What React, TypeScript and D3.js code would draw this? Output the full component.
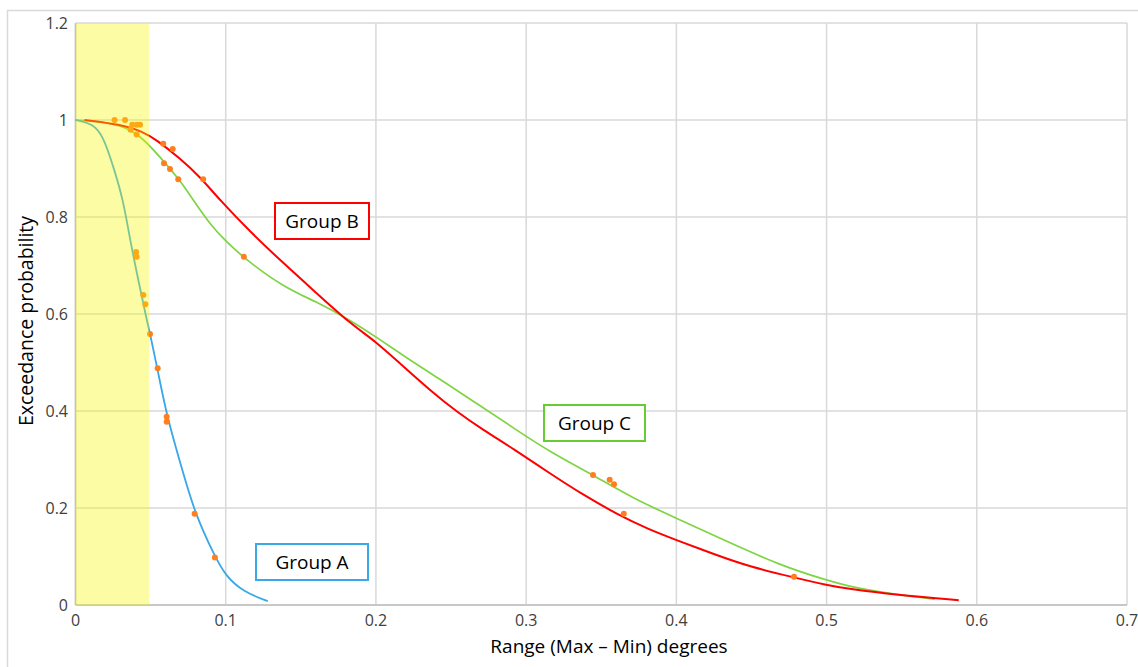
import React from "react";
import * as d3 from "d3";

const xTicks = [0, 0.1, 0.2, 0.3, 0.4, 0.5, 0.6, 0.7];
const yTicks = [0, 0.2, 0.4, 0.6, 0.8, 1, 1.2];

const groupACurve: [number, number][] = [
  [0, 1], [0.0118, 0.992], [0.0185, 0.966], [0.0252, 0.904], [0.0318, 0.835],
  [0.0363, 0.753], [0.0418, 0.67], [0.0474, 0.588], [0.0496, 0.56], [0.0547, 0.485],
  [0.0607, 0.39], [0.0717, 0.272], [0.0795, 0.189], [0.0928, 0.0996], [0.1, 0.06],
  [0.1117, 0.027], [0.128, 0.008],
];

const groupBCurve: [number, number][] = [
  [0.006, 1.0], [0.0296, 0.991], [0.045, 0.976], [0.054, 0.959], [0.0695, 0.921],
  [0.0828, 0.883], [0.0961, 0.835], [0.1161, 0.77], [0.1383, 0.705], [0.1605, 0.643],
  [0.1826, 0.581], [0.2, 0.543], [0.216, 0.498], [0.237, 0.44], [0.2536, 0.399],
  [0.2713, 0.361], [0.291, 0.323], [0.3157, 0.2715], [0.338, 0.227], [0.36, 0.188],
  [0.3822, 0.155], [0.4, 0.134], [0.4266, 0.103], [0.4488, 0.079], [0.478, 0.057],
  [0.5, 0.041], [0.515, 0.033], [0.546, 0.021], [0.588, 0.01],
];

const groupCCurve: [number, number][] = [
  [0, 1], [0.015, 0.997], [0.0296, 0.99], [0.043, 0.969], [0.0562, 0.924],
  [0.0695, 0.876], [0.0784, 0.835], [0.0895, 0.785], [0.1006, 0.748], [0.1139, 0.711],
  [0.1383, 0.656], [0.1605, 0.625], [0.1826, 0.588], [0.2, 0.553], [0.2226, 0.505],
  [0.24, 0.471], [0.2669, 0.416], [0.2935, 0.361], [0.3157, 0.316], [0.3445, 0.268],
  [0.371, 0.22], [0.4, 0.179], [0.4266, 0.141], [0.4709, 0.079], [0.5, 0.0515],
  [0.515, 0.0378], [0.545, 0.022], [0.572, 0.012],
];

const topPoints: [number, number][] = [
  [0.026, 1.0], [0.033, 1.0], [0.0378, 0.99], [0.0407, 0.99], [0.043, 0.99],
  [0.0367, 0.98], [0.0407, 0.97],
];
const groupAPoints: [number, number][] = [
  [0.0403, 0.728], [0.0407, 0.718], [0.0451, 0.639], [0.0465, 0.62], [0.0496, 0.559],
  [0.0547, 0.488], [0.0607, 0.388], [0.0607, 0.378], [0.0793, 0.188], [0.0928, 0.098],
];
const groupBPoints: [number, number][] = [
  [0.0584, 0.951], [0.0647, 0.94], [0.085, 0.878], [0.365, 0.188], [0.4783, 0.058],
];
const groupCPoints: [number, number][] = [
  [0.0589, 0.911], [0.0629, 0.899], [0.0684, 0.878], [0.1121, 0.718],
  [0.3445, 0.268], [0.3556, 0.258], [0.3585, 0.249],
];

const highlightRange = [0, 0.049];

const FONT = "'Open Sans', sans-serif";

export default function App() {
  const W = 1138, H = 667;
  const left = 75.5, right = 1127, top = 23, bottom = 605;
  const x = d3.scaleLinear().domain([0, 0.7]).range([left, right]);
  const y = d3.scaleLinear().domain([0, 1.2]).range([bottom, top]);
  const line = d3.line<[number, number]>().x(d => x(d[0])).y(d => y(d[1])).curve(d3.curveBasis);
  const allPoints = [...topPoints, ...groupAPoints, ...groupBPoints, ...groupCPoints];

  const labelBox = (lx: number, ly: number, w: number, h: number, text: string, color: string) => (
    <g>
      <rect x={lx} y={ly} width={w} height={h} fill="#fff" stroke={color} strokeWidth={2} />
      <text x={lx + w / 2} y={ly + h / 2 + 6.5} textAnchor="middle" fontSize={19} fill="#000" fontFamily={FONT}>{text}</text>
    </g>
  );

  return (
    <svg width={W} height={H} style={{ position: "absolute", left: 0, top: 0, background: "#fff" }}>
      <rect x={7.5} y={10.5} width={W} height={H} fill="#fff" stroke="#d9d9d9" strokeWidth={1.5} />
      {xTicks.map(t => (
        <line key={"gx" + t} x1={x(t)} x2={x(t)} y1={top} y2={bottom} stroke="#d9d9d9" strokeWidth={1.5} />
      ))}
      {yTicks.map(t => (
        <line key={"gy" + t} x1={left} x2={right} y1={y(t)} y2={y(t)} stroke="#d9d9d9" strokeWidth={1.5} />
      ))}
      <line x1={left} x2={right} y1={bottom} y2={bottom} stroke="#bfbfbf" strokeWidth={1.5} />
      <line x1={left} x2={left} y1={top} y2={bottom} stroke="#bfbfbf" strokeWidth={1.5} />

      <path d={line(groupCCurve) || ""} fill="none" stroke="#7ed443" strokeWidth={1.7} />
      <path d={line(groupBCurve) || ""} fill="none" stroke="#ff0000" strokeWidth={2} />
      <path d={line(groupACurve) || ""} fill="none" stroke="#38a8e8" strokeWidth={1.8} />
      {allPoints.map((p, i) => (
        <circle key={i} cx={x(p[0])} cy={y(p[1])} r={3} fill="#ff7f1e" />
      ))}

      <rect x={x(highlightRange[0])} y={top} width={x(highlightRange[1]) - x(highlightRange[0])} height={bottom - top}
        fill="rgb(245,248,0)" fillOpacity={0.36} />

      {yTicks.map(t => (
        <text key={"ty" + t} x={68} y={y(t) + 5.5} textAnchor="end" fontSize={16} fill="#404040" fontFamily={FONT}>{String(t)}</text>
      ))}
      {xTicks.map(t => (
        <text key={"tx" + t} x={x(t)} y={626} textAnchor="middle" fontSize={16} fill="#404040" fontFamily={FONT}>{String(t)}</text>
      ))}
      <text x={609} y={653} textAnchor="middle" fontSize={19} fill="#000" fontFamily={FONT}>Range (Max – Min) degrees</text>
      <text transform={`translate(33, 321) rotate(-90)`} textAnchor="middle" fontSize={19.5} fill="#000" fontFamily={FONT}>Exceedance probability</text>

      {labelBox(275, 203, 94, 36, "Group B", "#ff0000")}
      {labelBox(544, 405, 101, 36, "Group C", "#66cc33")}
      {labelBox(256, 544, 112, 36, "Group A", "#3aa8e6")}
    </svg>
  );
}
